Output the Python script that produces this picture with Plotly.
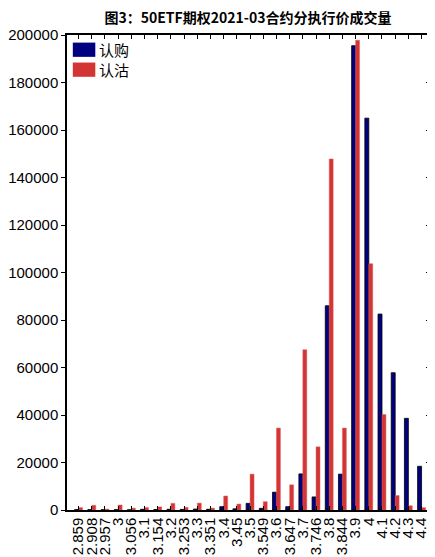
import plotly.graph_objects as go

# strike prices (categories) and volumes
strikes = ["2.859", "2.908", "2.957", "3", "3.056", "3.1", "3.154", "3.2", "3.253",
           "3.3", "3.351", "3.4", "3.45", "3.5", "3.549", "3.6", "3.647", "3.7",
           "3.746", "3.8", "3.844", "3.9", "4", "4.1", "4.2", "4.3", "4.4"]
call_vol = [150, 150, 100, 150, 100, 300, 200, 300, 250, 400, 300, 1400, 500, 2800,
            700, 7500, 1400, 15200, 5500, 86000, 15100, 195500, 165000, 82500,
            57800, 38600, 18400]
put_vol = [1000, 2000, 400, 2100, 800, 1000, 1300, 2800, 1100, 2900, 800, 5900,
           2500, 15100, 3500, 34500, 10600, 67500, 26600, 147800, 34500, 197800,
           103700, 40200, 6100, 1800, 1000]
y_ticks = [0, 20000, 40000, 60000, 80000, 100000, 120000, 140000, 160000, 180000, 200000]

NAVY = "#000080"
RED = "#d33535"
FONT = "Liberation Sans, Arial, sans-serif"

fig = go.Figure()
fig.add_trace(go.Bar(x=strikes, y=call_vol, name="认购",
                     marker=dict(color=NAVY, line=dict(color="black", width=0.8))))
fig.add_trace(go.Bar(x=strikes, y=put_vol, name="认沽",
                     marker=dict(color=RED, line=dict(color="#e06060", width=0.5))))
# invisible trace to carry the right-hand inward ticks
fig.add_trace(go.Scatter(x=[strikes[0]], y=[0], yaxis="y2", mode="markers",
                         marker=dict(opacity=0), showlegend=False, hoverinfo="skip"))

# page body has an 8px margin, so the figure is drawn 8px smaller
fig.update_layout(
    width=427, height=549,
    margin=dict(l=59, r=5, t=27, b=47),
    paper_bgcolor="white", plot_bgcolor="white",
    font=dict(family=FONT, size=15, color="black"),
    barmode="group", bargap=0.4, bargroupgap=0,
    showlegend=False,
    title=dict(text="<b>图3：50ETF期权2021-03合约分执行价成交量</b>",
               x=0.562, xanchor="center", y=0.982, yanchor="middle",
               font=dict(family="Noto Sans CJK SC", size=14, color="black")),
    xaxis=dict(type="category", range=[-0.88, 26.64], tickangle=-90,
               tickmode="linear", tick0=0, dtick=1, automargin=False,
               ticks="inside", ticklen=4, tickcolor="black", mirror="ticks",
               showline=True, linecolor="black", linewidth=1.5,
               showgrid=False, tickfont=dict(size=15)),
    yaxis=dict(range=[0, 200000], tickvals=y_ticks, tickformat="d",
               ticks="outside", ticklen=4, automargin=False,
               tickcolor="black", showline=True, linecolor="black", linewidth=1.5,
               showgrid=False, zeroline=False, tickfont=dict(size=15)),
    yaxis2=dict(range=[0, 200000], tickvals=y_ticks, overlaying="y", side="right",
                ticks="inside", ticklen=4, tickcolor="black", showticklabels=False,
                automargin=False,
                showline=True, linecolor="black", linewidth=1.5, showgrid=False,
                zeroline=False),
)

# legend drawn in the top-left corner like the original
legend_items = [("认购", NAVY), ("认沽", RED)]
for i, (label, color) in enumerate(legend_items):
    y0 = 0.984 - i * 0.042
    fig.add_shape(type="rect", xref="paper", yref="paper",
                  x0=0.016, x1=0.078, y0=y0 - 0.03, y1=y0,
                  fillcolor=color, line=dict(color=color, width=0))
    fig.add_annotation(xref="paper", yref="paper", x=0.082, y=y0 - 0.015,
                       text=label, showarrow=False, xanchor="left", yanchor="middle",
                       font=dict(family="Noto Sans CJK SC", size=15, color="black"))

fig.write_html("out.html")
